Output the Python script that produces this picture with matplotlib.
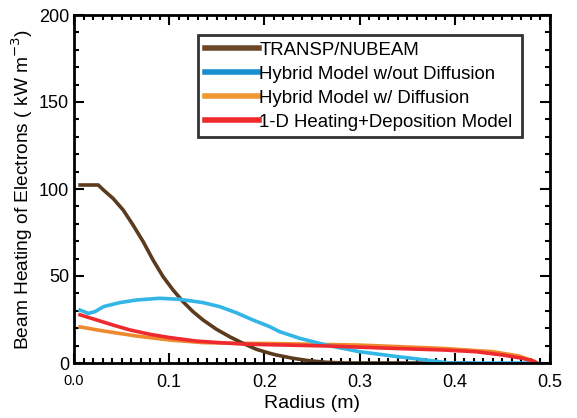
import matplotlib
matplotlib.use("Agg")
import matplotlib.pyplot as plt
from matplotlib.ticker import MultipleLocator

plt.rcParams['font.family'] = ['Liberation Sans', 'DejaVu Sans']

transp_x = [0.0045, 0.0255, 0.031, 0.041, 0.0517, 0.062, 0.0727, 0.083, 0.0936, 0.104, 0.1146,
            0.125, 0.1356, 0.1496, 0.1635, 0.1775, 0.1915, 0.2055, 0.2125, 0.23, 0.247, 0.265,
            0.285, 0.418]
transp_y = [102.3, 102.3, 99.4, 94.6, 87.9, 79.3, 69.7, 59.2, 49.6, 42.0, 35.2,
            29.5, 24.7, 19.4, 15.1, 11.3, 7.9, 5.6, 4.6, 2.7, 1.3, 0.4,
            0.0, 0.0]

nodiff_x = [0.0045, 0.015, 0.022, 0.031, 0.048, 0.0657, 0.09, 0.111, 0.1356, 0.153, 0.1705,
            0.188, 0.2055, 0.216, 0.237, 0.265, 0.2998, 0.335, 0.37, 0.394, 0.488]
nodiff_y = [30.8, 28.5, 29.5, 32.4, 34.7, 36.2, 37.2, 36.6, 34.7, 32.4, 28.9,
            24.7, 20.9, 18.0, 14.2, 10.3, 6.5, 4.0, 1.7, 0.0, 0.0]

diff_x = [0.0045, 0.031, 0.0657, 0.1006, 0.1356, 0.1705, 0.2055, 0.3, 0.387, 0.44, 0.4675, 0.485]
diff_y = [20.9, 18.4, 15.5, 13.2, 11.7, 11.3, 11.2, 10.3, 8.4, 6.5, 4.0, 0.7]

oned_x = [0.0045, 0.024, 0.041, 0.0587, 0.0797, 0.1006, 0.1286, 0.153, 0.1775, 0.2055, 0.265,
          0.335, 0.387, 0.422, 0.45, 0.471, 0.4815, 0.4867]
oned_y = [28.0, 24.7, 21.8, 19.0, 16.5, 14.6, 12.6, 11.7, 10.9, 10.5, 9.8,
          8.4, 7.5, 6.5, 4.6, 2.7, 1.3, 0.0]

labels = ["TRANSP/NUBEAM", "Hybrid Model w/out Diffusion",
          "Hybrid Model w/ Diffusion", "1-D Heating+Deposition Model"]
colors = ["#5c3a1e", "#33b5e5", "#f0892d", "#ee2a2f"]
legend_colors = ["#6b4a2a", "#1a8fd0", "#f0982f", "#ee2a2f"]

fig = plt.figure(figsize=(5.77, 4.18), dpi=100)
ax = fig.add_axes([74/577, 1-363/418, (550-74)/577, (363-15)/418])

series = [(transp_x, transp_y), (nodiff_x, nodiff_y), (diff_x, diff_y), (oned_x, oned_y)]
order = [2, 0, 1, 3]
for i in order:
    x, y = series[i]
    ax.plot(x, y, color=colors[i], lw=2.6, solid_capstyle='butt', solid_joinstyle='round')

ax.set_xlim(0, 0.5)
ax.set_ylim(0, 200)
ax.xaxis.set_major_locator(MultipleLocator(0.1))
ax.xaxis.set_minor_locator(MultipleLocator(0.01))
ax.yaxis.set_major_locator(MultipleLocator(50))
ax.yaxis.set_minor_locator(MultipleLocator(10))
ax.tick_params(which='both', direction='in', top=True, right=True, width=1.5, labelsize=13)
ax.tick_params(which='major', length=7)
ax.tick_params(which='minor', length=3.5)
ax.tick_params(axis='x', pad=8)
for s in ax.spines.values():
    s.set_linewidth(2)
ax.set_xticks([0.0, 0.1, 0.2, 0.3, 0.4, 0.5])
ax.set_xticklabels(["0.0", "0.1", "0.2", "0.3", "0.4", "0.5"])
ax.get_xticklabels()[0].set_fontsize(10.5)

ax.set_xlabel("Radius (m)", fontsize=14, labelpad=3)
ax.set_ylabel("Beam Heating of Electrons ( kW m$^{-3}$)", fontsize=13.8, labelpad=3)

handles = [plt.Line2D([], [], color=legend_colors[i], lw=4) for i in range(4)]
ax_w = 476.0
ax_h = 348.0
bx0 = (198 - 74) / ax_w
bw = (522 - 198) / ax_w
by1 = (363 - 35) / ax_h
bh = (138 - 35) / ax_h
leg = ax.legend(handles, labels, loc='upper left', mode='expand',
                bbox_to_anchor=(bx0, by1 - bh, bw, bh),
                fontsize=13.4, frameon=True, fancybox=False, handlelength=2.95,
                handletextpad=0.0, borderpad=0.35, labelspacing=0.38, borderaxespad=0)
leg.get_frame().set_edgecolor('black')
leg.get_frame().set_linewidth(2)

fig.savefig("out.png", dpi=100)
